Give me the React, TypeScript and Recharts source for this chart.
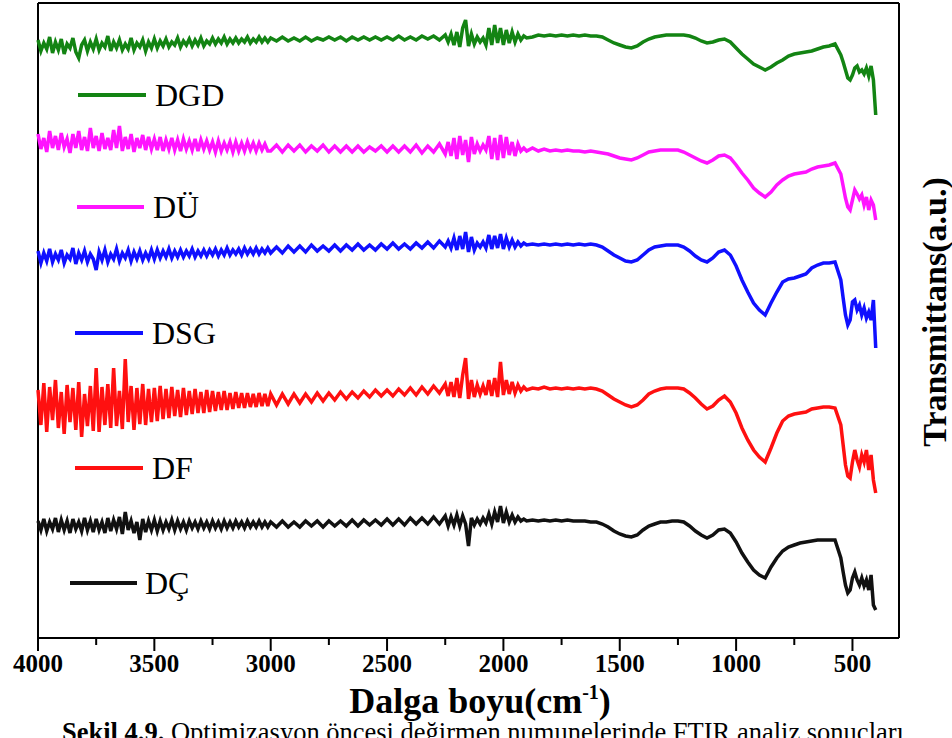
import React from 'react';
import { LineChart, Line, XAxis, YAxis, ReferenceLine } from 'recharts';

// wavenumber grid (cm-1): finer steps where the spectra are noisy
const wavenumbers = [
  4000, 3987.5, 3975, 3962.5, 3950, 3937.5, 3925, 3912.5, 3900, 3887.5, 3875, 3862.5, 3850, 3837.5, 3825, 3812.5, 3800, 3787.5, 3775, 3762.5,
  3750, 3737.5, 3725, 3712.5, 3700, 3687.5, 3675, 3662.5, 3650, 3637.5, 3625, 3612.5, 3600, 3587.5, 3575, 3562.5, 3550, 3537.5, 3525, 3512.5,
  3500, 3487.5, 3475, 3462.5, 3450, 3437.5, 3425, 3412.5, 3400, 3387.5, 3375, 3362.5, 3350, 3337.5, 3325, 3312.5, 3300, 3287.5, 3275, 3262.5,
  3250, 3237.5, 3225, 3212.5, 3200, 3187.5, 3175, 3162.5, 3150, 3137.5, 3125, 3112.5, 3100, 3087.5, 3075, 3062.5, 3050, 3037.5, 3025, 3012.5,
  3000, 2975, 2950, 2925, 2900, 2875, 2850, 2825, 2800, 2775,
  2750, 2725, 2700, 2675, 2650, 2625, 2600, 2575, 2550, 2525,
  2500, 2475, 2450, 2425, 2400, 2375, 2350, 2325, 2300, 2275, 2250,
  2237.5, 2225, 2212.5, 2200, 2187.5, 2175, 2162.5, 2150, 2137.5, 2125, 2112.5, 2100, 2087.5, 2075,
  2062.5, 2050, 2037.5, 2025, 2012.5, 2000, 1987.5, 1975, 1962.5, 1950, 1937.5, 1925, 1912.5, 1900,
  1875, 1850, 1825, 1800, 1775, 1750, 1725, 1700, 1675, 1650, 1625,
  1600, 1575, 1550, 1525, 1500, 1475, 1450, 1425, 1400, 1375, 1350, 1325, 1300, 1275, 1250, 1225, 1200, 1175, 1150, 1125,
  1100, 1075, 1050, 1025, 1000, 975, 950, 925, 900, 875, 850, 825, 800, 775, 750, 725, 700, 675, 650, 625, 600, 575,
  550, 540, 530, 520, 510, 500, 490, 480, 470, 460, 450, 440, 430, 420, 410, 400,
];

// transmittance (a.u., spectra stacked with offsets)
const dgd = [
  960, 949, 957, 951, 963, 947, 958, 950, 961, 946, 956, 952, 962, 948, 942, 955, 960, 949, 958, 951,
  961, 950, 957, 953, 964, 949, 958, 952, 960, 950, 956, 951, 962, 950, 957, 953, 960, 949, 958, 952,
  961, 952, 959, 954, 961, 953, 958, 955, 962, 953, 959, 955, 961, 954, 960, 955, 962, 954, 959, 956,
  962, 956, 961, 957, 963, 956, 961, 957, 962, 957, 961, 958, 963, 957, 961, 958, 963, 958, 962, 958,
  962, 959, 963, 959, 962, 959, 963, 959, 962, 960,
  963, 960, 963, 959, 963, 960, 963, 960, 963, 960,
  963, 960, 964, 960, 963, 960, 964, 961, 964, 960, 965,
  958, 966, 955, 968, 953, 972, 980, 954, 966, 956, 963, 958, 962, 955,
  972, 955, 975, 957, 972, 955, 970, 957, 968, 958, 966, 960, 964, 962,
  963, 965, 964, 965, 964, 965, 964, 965, 964, 965, 964,
  964, 963, 960, 957, 955, 953, 952, 954, 958, 961, 963, 964, 965, 965, 965, 965, 964, 962, 959, 957,
  958, 960, 961, 958, 952, 946, 941, 936, 933, 930, 933, 937, 940, 944, 946, 947, 948, 949, 951, 953, 954, 956,
  945, 938, 930, 922, 920, 925, 932, 934, 928, 930, 926, 932, 924, 934, 920, 885,
];

const du = [
  866, 851, 862, 848, 869, 852, 864, 850, 867, 853, 861, 847, 866, 852, 869, 850, 863, 849, 872, 852,
  864, 849, 867, 851, 862, 850, 870, 852, 874, 849, 863, 851, 866, 848, 862, 852, 865, 850, 863, 851,
  861, 850, 863, 849, 860, 851, 862, 850, 860, 849, 861, 851, 859, 850, 861, 849, 860, 851, 859, 850,
  858, 848, 859, 849, 857, 850, 858, 848, 858, 849, 857, 849, 858, 850, 857, 849, 857, 850, 856, 849,
  849, 855, 848, 855, 849, 855, 848, 854, 849, 855,
  848, 854, 848, 854, 848, 854, 848, 853, 849, 854,
  848, 854, 848, 854, 848, 855, 847, 854, 848, 856, 846,
  858, 844, 862, 841, 864, 845, 860, 838, 863, 846, 856, 849, 855, 850,
  864, 841, 862, 840, 865, 842, 863, 845, 858, 844, 856, 849, 852, 849,
  852, 849, 851, 849, 850, 849, 850, 849, 849, 848, 849,
  848, 847, 846, 844, 842, 841, 840, 842, 845, 848, 849, 850, 850, 850, 850, 848, 845, 842, 839, 837,
  840, 844, 845, 842, 835, 827, 820, 812, 807, 803, 808, 815, 820, 824, 826, 827, 828, 831, 833, 834, 835, 837,
  826, 814, 802, 793, 790, 800, 810, 806, 801, 805, 795, 803, 790, 800, 795, 780,
];

const dsg = [
  749, 737, 747, 739, 751, 738, 746, 740, 750, 737, 745, 741, 752, 736, 747, 740, 749, 738, 746, 741,
  730, 748, 740, 750, 738, 746, 741, 751, 739, 747, 742, 750, 739, 748, 741, 749, 740, 747, 741, 750,
  741, 750, 742, 749, 743, 751, 742, 749, 743, 750, 743, 749, 744, 751, 743, 749, 744, 750, 744, 750,
  745, 751, 744, 750, 745, 752, 745, 750, 746, 751, 745, 752, 746, 751, 746, 752, 746, 751, 747, 752,
  747, 753, 747, 754, 748, 754, 748, 755, 749, 754,
  749, 755, 749, 755, 750, 756, 750, 755, 750, 756,
  751, 757, 751, 756, 751, 757, 752, 758, 752, 759, 753,
  759, 752, 762, 750, 764, 751, 768, 748, 763, 750, 757, 753, 758, 752,
  765, 751, 764, 752, 766, 751, 762, 753, 760, 753, 758, 754, 757, 755,
  756, 755, 756, 755, 756, 755, 756, 755, 756, 755, 756,
  755, 753, 749, 745, 742, 739, 738, 740, 745, 750, 753, 754, 755, 755, 755, 753, 749, 744, 740, 738,
  742, 748, 750, 745, 734, 720, 708, 697, 690, 685, 697, 708, 718, 721, 722, 724, 726, 732, 735, 737, 737, 738,
  720, 702, 685, 675, 680, 698, 700, 690, 695, 685, 692, 682, 688, 680, 700, 652,
];

const df = [
  610, 575, 617, 568, 613, 580, 620, 572, 608, 566, 615, 578, 612, 570, 618, 563, 606, 574, 614, 569,
  632, 568, 613, 575, 616, 572, 632, 574, 609, 571, 641, 578, 614, 570, 612, 576, 616, 575, 611, 578,
  612, 579, 614, 581, 611, 582, 613, 584, 610, 583, 612, 585, 609, 586, 611, 587, 608, 587, 610, 588,
  609, 589, 608, 590, 609, 590, 607, 591, 608, 592, 607, 592, 607, 593, 606, 593, 607, 594, 606, 594,
  606, 595, 606, 596, 606, 597, 606, 598, 607, 599,
  607, 600, 608, 601, 608, 602, 609, 603, 610, 604,
  610, 604, 611, 605, 612, 605, 613, 606, 614, 607, 616,
  604, 618, 603, 622, 602, 625, 642, 601, 620, 603, 615, 606, 614, 605,
  620, 604, 622, 603, 638, 605, 620, 606, 618, 607, 615, 609, 613, 610,
  612, 611, 613, 611, 612, 611, 612, 611, 612, 611, 612,
  611, 609, 605, 601, 598, 595, 593, 595, 600, 606, 609, 611, 612, 612, 612, 611, 607, 602, 596, 591,
  594, 600, 604, 598, 587, 572, 560, 550, 543, 538, 552, 567, 579, 584, 586, 587, 588, 591, 592, 593, 593, 592,
  575, 555, 535, 524, 522, 538, 550, 540, 533, 545, 538, 550, 530, 545, 520, 507,
];

const dc = [
  479, 470, 481, 469, 478, 471, 482, 468, 480, 470, 479, 467, 481, 471, 478, 469, 482, 470, 479, 468,
  481, 470, 478, 467, 482, 469, 480, 471, 483, 466, 488, 470, 479, 467, 478, 460, 481, 468, 479, 470,
  480, 469, 479, 470, 478, 471, 480, 470, 479, 471, 478, 470, 479, 472, 478, 471, 479, 472, 478, 471,
  479, 472, 478, 471, 479, 472, 478, 472, 479, 473, 478, 472, 479, 473, 478, 473, 479, 473, 478, 473,
  478, 473, 479, 473, 478, 473, 479, 474, 479, 473,
  479, 474, 479, 474, 480, 474, 480, 475, 480, 475,
  481, 475, 481, 475, 482, 476, 482, 476, 483, 476, 484,
  474, 483, 475, 485, 474, 484, 476, 454, 482, 475, 481, 476, 482, 477,
  486, 476, 488, 478, 494, 477, 488, 478, 485, 478, 483, 479, 481, 479,
  480, 479, 480, 479, 480, 479, 480, 479, 479, 479, 478,
  478, 476, 473, 469, 466, 464, 463, 465, 470, 474, 476, 478, 478, 479, 479, 478, 474, 469, 465, 462,
  465, 470, 471, 467, 458, 447, 438, 430, 425, 422, 433, 442, 449, 453, 455, 457, 458, 459, 460, 460, 460, 460,
  442, 428, 415, 407, 410, 422, 428, 420, 415, 422, 414, 420, 410, 425, 395, 390,
];

const seriesNames = ['DGD', 'DÜ', 'DSG', 'DF', 'DÇ'];
const seriesKeys = ['dgd', 'du', 'dsg', 'df', 'dc'];
const seriesColors = ['#138413', '#ff14ff', '#1010ff', '#ff1010', '#111111'];

const xTicks = [4000, 3750, 3500, 3250, 3000, 2750, 2500, 2250, 2000, 1750, 1500, 1250, 1000, 750, 500];
const xDomain = [300, 4000];
const yDomain = [362, 997];

const FONT = "'Liberation Serif', 'Times New Roman', serif";

const W = 952;
const H = 738;

// legend entry positions: [line x1, line x2, y, text x]
const legendPos = [
  [78, 146, 95, 155],
  [77, 144, 207, 153],
  [75, 143, 333, 152],
  [75, 143, 468, 152],
  [70, 137, 583, 145],
];

const WaveTick = (props: any) => {
  const { x, y, payload } = props;
  const major = payload.value % 500 === 0;
  return (
    <g>
      <line x1={x} x2={x} y1={y} y2={y + (major ? 13 : 7)} stroke="#000" strokeWidth={2} />
      {major && (
        <text x={x} y={y + 34} textAnchor="middle" fontFamily={FONT} fontWeight="bold" fontSize={25} fill="#000">
          {payload.value}
        </text>
      )}
    </g>
  );
};

export default function App() {
  const rows = wavenumbers.map((wn, i) => ({
    wn,
    dgd: dgd[i],
    du: du[i],
    dsg: dsg[i],
    df: df[i],
    dc: dc[i],
  }));

  const frame = { stroke: '#000', strokeWidth: 2 };

  return (
    <div style={{ position: 'absolute', left: 0, top: 0, width: W, height: H, background: '#fff', overflow: 'hidden' }}>
      <LineChart width={W} height={H} data={rows} margin={{ top: 3, right: 53, bottom: 60, left: 38 }}>
        <XAxis
          dataKey="wn"
          type="number"
          domain={xDomain}
          reversed
          ticks={xTicks}
          interval={0}
          height={40}
          tickSize={0}
          tickMargin={0}
          tickLine={false}
          axisLine={frame}
          tick={<WaveTick />}
        />
        <YAxis type="number" domain={yDomain} hide />
        <ReferenceLine x={4000} {...frame} />
        <ReferenceLine x={300} {...frame} />
        <ReferenceLine y={997} {...frame} />
        {seriesKeys.map((k, i) => (
          <Line
            key={k}
            dataKey={k}
            name={seriesNames[i]}
            type="linear"
            stroke={seriesColors[i]}
            strokeWidth={3.5}
            strokeLinejoin="miter"
            dot={false}
            activeDot={false}
            isAnimationActive={false}
          />
        ))}
      </LineChart>
      <svg width={W} height={H} style={{ position: 'absolute', left: 0, top: 0, pointerEvents: 'none' }}>
        {seriesNames.map((name, i) => {
          const [x1, x2, y, tx] = legendPos[i];
          return (
            <g key={name}>
              <line x1={x1} x2={x2} y1={y} y2={y} stroke={seriesColors[i]} strokeWidth={4} />
              <text x={tx} y={y + 11} fontFamily={FONT} fontSize={32} fill="#000">
                {name}
              </text>
            </g>
          );
        })}
        <text x={480} y={713} textAnchor="middle" fontFamily={FONT} fontWeight="bold" fontSize={36} fill="#000">
          Dalga boyu(cm
          <tspan fontSize={20} dy={-14}>-1</tspan>
          <tspan dy={14}>)</tspan>
        </text>
        <text
          x={946}
          y={312}
          transform="rotate(-90 946 312)"
          textAnchor="middle"
          fontFamily={FONT}
          fontWeight="bold"
          fontSize={34}
          fill="#000"
        >
          Transmittans(a.u.)
        </text>
        <text x={62} y={741} fontFamily={FONT} fontSize={26.5} fill="#000">
          <tspan fontWeight="bold">Şekil 4.9.</tspan> Optimizasyon öncesi değirmen numunelerinde FTIR analiz sonuçları
        </text>
      </svg>
    </div>
  );
}
